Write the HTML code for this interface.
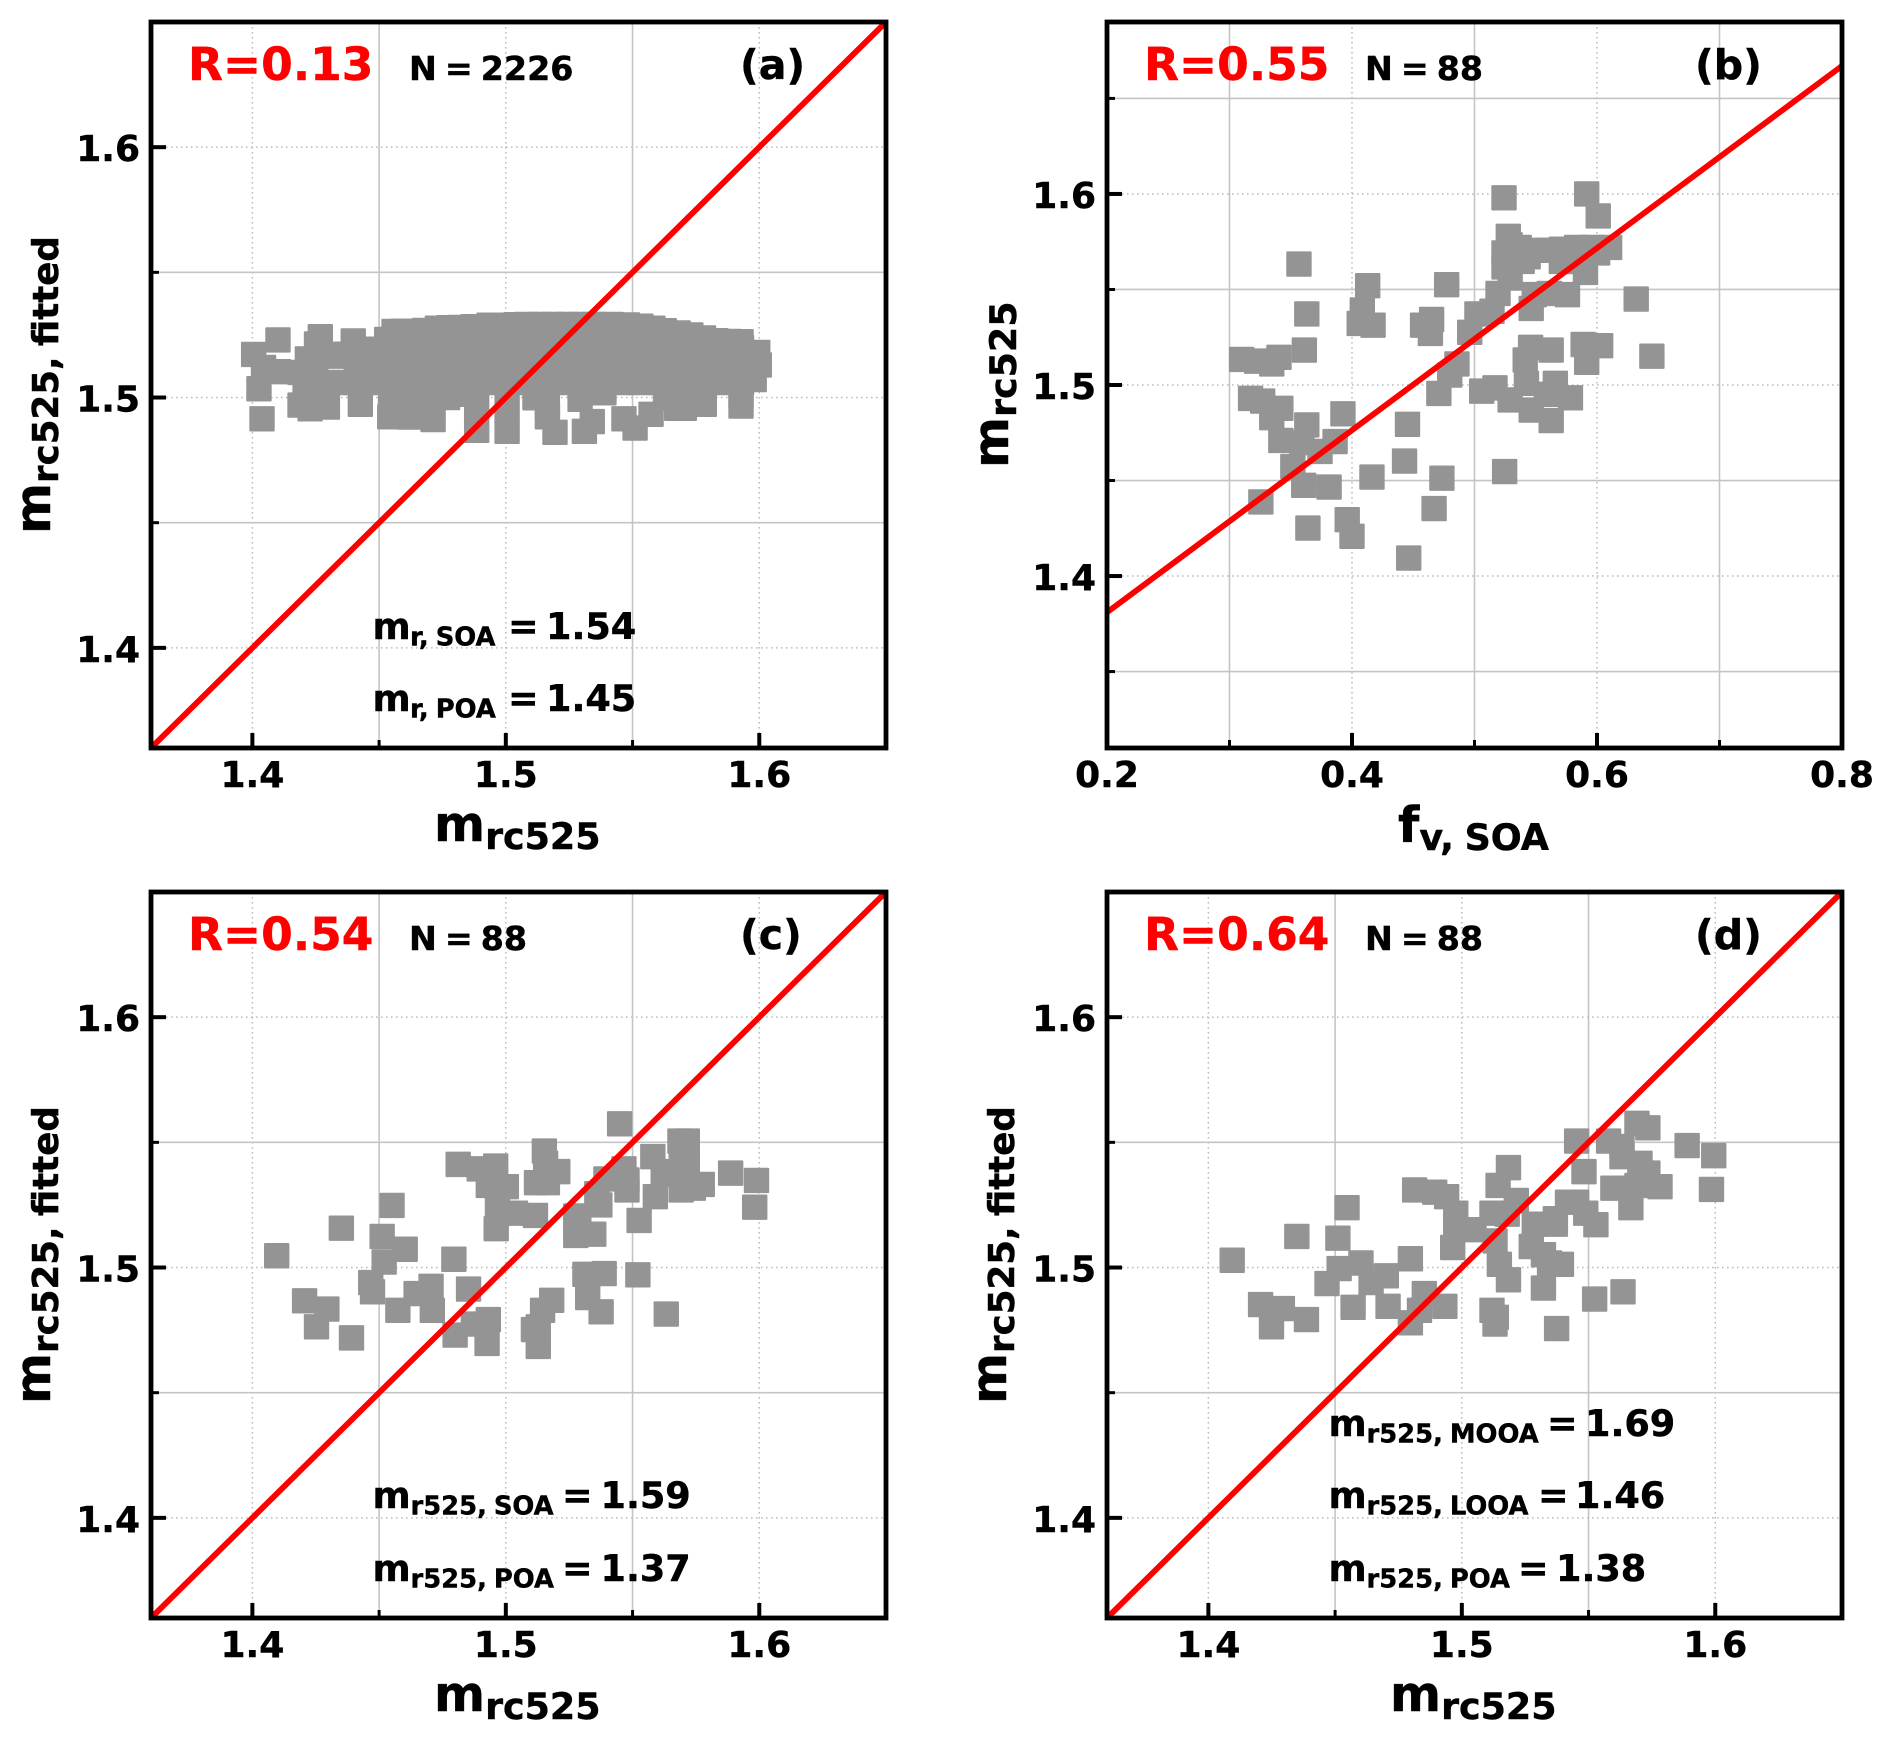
<!DOCTYPE html>
<html lang="en">
<head>
<meta charset="utf-8">
<title>Refractive index scatter panels</title>
<style>
  html, body { margin: 0; padding: 0; background: #fff; }
  svg { display: block; }
  text { font-family: "DejaVu Sans", "Liberation Sans", sans-serif; font-weight: 700; fill: #000; stroke: #000; stroke-width: 0.45px; }
  .tick { font-size: 36px; }
  .r { font-size: 45.5px; fill: #ff0000; stroke: #ff0000; }
  .n { font-size: 33.3px; word-spacing: -3.6px; }
  .p { font-size: 41px; }
  .ax { font-size: 49px; }
  .ax tspan { font-size: 36.4px; word-spacing: -2px; }
  .ax tspan.fit { font-size: 35.6px; }
  .an { font-size: 36.6px; }
  .an .s { font-size: 25.8px; word-spacing: -2px; }
</style>
</head>
<body>
<svg id="chart" xmlns="http://www.w3.org/2000/svg" width="1892" height="1738" viewBox="0 0 1892 1738">
  <rect width="1892" height="1738" fill="#ffffff"/>
  <defs>
    <clipPath id="clip-a"><rect x="151" y="22" width="735" height="726"/></clipPath>
    <clipPath id="clip-b"><rect x="1107" y="22" width="735" height="726"/></clipPath>
    <clipPath id="clip-c"><rect x="151" y="892" width="735" height="726"/></clipPath>
    <clipPath id="clip-d"><rect x="1107" y="892" width="735" height="726"/></clipPath>
  </defs>
  <g id="panel-a"></g>
  <g id="panel-b"></g>
  <g id="panel-c"></g>
  <g id="panel-d"></g>

  <!-- Panel a text -->
  <text class="r" x="188" y="80">R=0.13</text>
  <text class="n" x="409" y="80">N = 2226</text>
  <text class="p" x="740" y="79">(a)</text>
  <text class="an" y="639"><tspan x="372.5">m</tspan><tspan class="s" x="410" dy="6.5">r, SOA</tspan><tspan x="508" dy="-6.5">=</tspan><tspan x="546">1.54</tspan></text>
  <text class="an" y="711"><tspan x="372.5">m</tspan><tspan class="s" x="410" dy="6.5">r, POA</tspan><tspan x="508" dy="-6.5">=</tspan><tspan x="546">1.45</tspan></text>
  <text class="ax" x="434" y="841">m<tspan dy="8">rc525</tspan></text>
  <text class="ax" transform="translate(50 534) rotate(-90)">m<tspan class="fit" dy="8">rc525, fitted</tspan></text>

  <!-- Panel b text -->
  <text class="r" x="1144" y="80">R=0.55</text>
  <text class="n" x="1365" y="80">N = 88</text>
  <text class="p" x="1695" y="79">(b)</text>
  <text class="ax" x="1398" y="842">f<tspan dy="8">v, SOA</tspan></text>
  <text class="ax" transform="translate(1008 468) rotate(-90)">m<tspan dy="8">rc525</tspan></text>

  <!-- Panel c text -->
  <text class="r" x="188" y="950">R=0.54</text>
  <text class="n" x="409" y="950">N = 88</text>
  <text class="p" x="740" y="949">(c)</text>
  <text class="an" y="1508"><tspan x="372.5">m</tspan><tspan class="s" x="410.5" dy="6.5">r525, SOA</tspan><tspan x="562" dy="-6.5">=</tspan><tspan x="600.5">1.59</tspan></text>
  <text class="an" y="1581"><tspan x="372.5">m</tspan><tspan class="s" x="410.5" dy="6.5">r525, POA</tspan><tspan x="562" dy="-6.5">=</tspan><tspan x="600.5">1.37</tspan></text>
  <text class="ax" x="434" y="1711">m<tspan dy="8">rc525</tspan></text>
  <text class="ax" transform="translate(50 1404) rotate(-90)">m<tspan class="fit" dy="8">rc525, fitted</tspan></text>

  <!-- Panel d text -->
  <text class="r" x="1144" y="950">R=0.64</text>
  <text class="n" x="1365" y="950">N = 88</text>
  <text class="p" x="1695" y="949">(d)</text>
  <text class="an" y="1436"><tspan x="1328.5">m</tspan><tspan class="s" x="1366.5" dy="6.5">r525, MOOA</tspan><tspan x="1547" dy="-6.5">=</tspan><tspan x="1585">1.69</tspan></text>
  <text class="an" y="1508"><tspan x="1328.5">m</tspan><tspan class="s" x="1366.5" dy="6.5">r525, LOOA</tspan><tspan x="1538" dy="-6.5">=</tspan><tspan x="1575">1.46</tspan></text>
  <text class="an" y="1581"><tspan x="1328.5">m</tspan><tspan class="s" x="1366.5" dy="6.5">r525, POA</tspan><tspan x="1518" dy="-6.5">=</tspan><tspan x="1556">1.38</tspan></text>
  <text class="ax" x="1390" y="1711">m<tspan dy="8">rc525</tspan></text>
  <text class="ax" transform="translate(1006 1404) rotate(-90)">m<tspan class="fit" dy="8">rc525, fitted</tspan></text>
</svg>

<script>
// ---- tick values ----
const majorTicks = [1.4, 1.5, 1.6];
const minorTicks = [1.45, 1.55];
const bXMajorTicks = [0.2, 0.4, 0.6, 0.8];
const bXMinorTicks = [0.3, 0.5, 0.7];
const bYMajorTicks = [1.4, 1.5, 1.6];
const bYMinorTicks = [1.35, 1.45, 1.55, 1.65];

// ---- fit / 1:1 lines ----
const lineAX = [1.36, 1.65];
const lineAY = [1.36, 1.65];
const lineBX = [0.2, 0.8];
const lineBY = [1.381, 1.667];
const lineCX = [1.36, 1.65];
const lineCY = [1.36, 1.65];
const lineDX = [1.36, 1.65];
const lineDY = [1.36, 1.65];

// ---- panel a: measured vs fitted ----
const aX = [
  1.4005,1.4101,1.4026,1.4038,1.4044,1.4103,1.4188,1.4208,1.4217,1.4268,
  1.4253,1.4398,1.4368,1.4435,1.4530,1.4559,1.4596,1.4635,1.4680,1.4730,
  1.4775,1.4819,1.4870,1.4934,1.4990,1.5040,1.5082,1.5135,1.5188,1.5240,
  1.5293,1.5350,1.5415,1.5480,1.5533,1.5580,1.5625,1.5680,1.5730,1.5780,
  1.5829,1.5880,1.5928,1.5994,1.6000,1.5980,1.4188,1.4228,1.4296,1.4426,
  1.4542,1.4618,1.4713,1.4793,1.4885,1.5005,1.5164,1.5194,1.5310,1.5341,
  1.5466,1.5510,1.5573,1.5674,1.5704,1.5783,1.5928,1.4545,1.4620,1.4700,
  1.4770,1.4885,1.5005,1.5115,1.5164,1.5293,1.5387,1.5630,1.5690,1.5760,
  1.5928,1.425,1.425,1.433,1.433,1.441,1.441,1.441,1.449,1.449,
  1.449,1.457,1.457,1.457,1.465,1.465,1.465,1.473,1.473,1.473,
  1.481,1.481,1.481,1.489,1.489,1.489,1.497,1.497,1.497,
  1.505,1.505,1.505,1.513,1.513,1.513,1.521,1.521,1.521,
  1.529,1.529,1.529,1.537,1.537,1.537,1.545,1.545,1.545,
  1.553,1.553,1.553,1.561,1.561,1.561,1.569,1.569,1.569,
  1.577,1.577,1.577,1.585,1.585,1.585,1.593,1.593,1.593
];
const aY = [
  1.5172,1.5230,1.5035,1.4915,1.5120,1.5103,1.5100,1.5043,1.5154,1.5243,
  1.5214,1.5226,1.5173,1.5193,1.5232,1.5264,1.5265,1.5265,1.5268,1.5277,
  1.5279,1.5280,1.5283,1.5289,1.5289,1.5291,1.5292,1.5292,1.5292,1.5292,
  1.5292,1.5292,1.5292,1.5290,1.5285,1.5277,1.5267,1.5258,1.5250,1.5238,
  1.5227,1.5224,1.5223,1.5180,1.5130,1.5072,1.4970,1.4955,1.4962,1.4973,
  1.4923,1.4922,1.4912,1.5013,1.4869,1.4865,1.4923,1.4861,1.4865,1.4904,
  1.4915,1.4878,1.4933,1.4957,1.4957,1.4973,1.4966,1.5000,1.5000,1.5000,
  1.5000,1.4960,1.4960,1.4999,1.4965,1.4993,1.5019,1.4998,1.4998,1.4998,
  1.5010,1.506,1.513,1.506,1.5165,1.506,1.513,1.519,1.506,1.513,
  1.519,1.506,1.513,1.520,1.506,1.513,1.520,1.506,1.513,1.520,
  1.506,1.513,1.520,1.506,1.513,1.520,1.506,1.513,1.520,
  1.506,1.513,1.520,1.506,1.513,1.520,1.506,1.513,1.520,
  1.506,1.513,1.520,1.506,1.513,1.520,1.506,1.513,1.520,
  1.506,1.513,1.520,1.506,1.513,1.520,1.506,1.513,1.520,
  1.506,1.513,1.520,1.506,1.513,1.520,1.506,1.513,1.520
];

// ---- panel b: f_v,SOA vs m_rc525 ----
const bX = [
  .5241,.5916,.6010,.5276,.5291,.5241,.5365,.5241,.5438,.5611,
  .5709,.5833,.5956,.6103,.6005,.5906,.5709,.3567,.4128,.4773,
  .6320,.4084,.3631,.4059,.4172,.4650,.4576,.4640,.5192,.5020,
  .5143,.4961,.5463,.5611,.5759,.5488,.3099,.3222,.3345,.3404,
  .3611,.5458,.5626,.5414,.5887,.6030,.5916,.6448,.4857,.4798,
  .4709,.5059,.5167,.5424,.5660,.5586,.5291,.5463,.5783,.5626,
  .3172,.3271,.3419,.3345,.3631,.3926,.4453,.3419,.3591,.3862,
  .3739,.3517,.4429,.3606,.3813,.4163,.4734,.5246,.3256,.4670,
  .3961,.4000,.3640,.4463,.5537,.5389,.5857,.5291
];
const bY = [
  1.598,1.600,1.5885,1.5778,1.5734,1.5691,1.572,1.5618,1.5671,1.5705,
  1.5711,1.572,1.572,1.572,1.5691,1.5589,1.5647,1.5633,1.552,1.5525,
  1.545,1.5392,1.5372,1.5322,1.5313,1.5343,1.5313,1.527,1.5479,1.5372,
  1.5386,1.5276,1.5401,1.5479,1.5473,1.5473,1.5134,1.5125,1.511,1.5145,
  1.5183,1.5197,1.5183,1.5131,1.5212,1.5206,1.5119,1.5151,1.511,1.5052,
  1.4956,1.4968,1.4985,1.5009,1.5009,1.4951,1.4922,1.4869,1.4933,1.4814,
  1.493,1.4916,1.4878,1.4829,1.4791,1.4849,1.4794,1.471,1.4698,1.4704,
  1.4652,1.4573,1.4602,1.4475,1.4466,1.4518,1.4512,1.4547,1.4388,1.4353,
  1.4295,1.4208,1.4251,1.4094,1.5705,1.5647,1.5647,1.556
];

// ---- panel c: measured vs fitted ----
const cX = [
  1.5449,1.5716,1.5687,1.5152,1.5157,1.5205,1.5121,1.5164,1.4812,1.4895,
  1.4960,1.4931,1.5002,1.5580,1.5395,1.5466,1.5478,1.5478,1.5621,1.5716,
  1.5692,1.5775,1.5692,1.5740,1.5887,1.5989,1.5982,1.4551,1.4351,1.4512,
  1.4603,1.4520,1.4096,1.4795,1.5038,1.5117,1.4962,1.4967,1.5371,1.5359,
  1.5276,1.5276,1.5347,1.5288,1.5590,1.5526,1.5312,1.5388,1.5521,1.5633,
  1.5323,1.5376,1.5181,1.5145,1.5128,1.5109,1.5128,1.4926,1.4931,1.4872,
  1.4800,1.4853,1.4705,1.4646,1.4710,1.4574,1.4467,1.4474,1.4206,1.4294,
  1.4253,1.4391,1.5692,1.5633
];
const cY = [
  1.5574,1.5505,1.5505,1.5465,1.5416,1.5383,1.5339,1.5339,1.5412,1.5394,
  1.5405,1.5328,1.5323,1.5443,1.5354,1.5394,1.5310,1.5350,1.5383,1.5416,
  1.5361,1.5332,1.5310,1.5317,1.5377,1.5348,1.5241,1.5248,1.5157,1.5124,
  1.5073,1.5022,1.5047,1.5033,1.5217,1.5208,1.5155,1.5239,1.5250,1.5295,
  1.5206,1.5128,1.5133,1.5173,1.5283,1.5188,1.4973,1.4976,1.4971,1.4814,
  1.4880,1.4823,1.4869,1.4829,1.4763,1.4752,1.4685,1.4697,1.4792,1.4774,
  1.4730,1.4914,1.4925,1.4896,1.4829,1.4829,1.4940,1.4903,1.4867,1.4834,
  1.4763,1.4719,1.5450,1.5372
];

// ---- panel d: measured vs fitted ----
const dX = [
  1.5691,1.5734,1.5453,1.5579,1.5889,1.5994,1.5632,1.5703,1.5482,1.5734,
  1.5596,1.5691,1.5782,1.5985,1.5667,1.5184,1.5143,1.4814,1.4893,1.4940,
  1.5215,1.4547,1.4349,1.4511,1.4094,1.4797,1.5119,1.5179,1.4976,1.4976,
  1.5048,1.4964,1.5131,1.5417,1.5369,1.5286,1.5274,1.5322,1.5393,1.5346,
  1.5489,1.5529,1.5148,1.5184,1.5322,1.5524,1.5636,1.5374,1.5119,1.5136,
  1.5131,1.4933,1.4852,1.4833,1.4797,1.4709,1.4702,1.4642,1.4602,1.4516,
  1.4468,1.4571,1.4206,1.4292,1.4249,1.4387,1.5369,1.5453,1.5632,1.5703
];
const dY = [
  1.5576,1.5558,1.5505,1.5505,1.5487,1.5447,1.5443,1.5416,1.5383,1.5377,
  1.5317,1.5328,1.5323,1.5312,1.5239,1.5399,1.5328,1.5310,1.5301,1.5283,
  1.5268,1.5239,1.5124,1.5117,1.5029,1.5035,1.5217,1.5213,1.5217,1.5162,
  1.5151,1.5080,1.5106,1.5261,1.5173,1.5173,1.5084,1.5051,1.5013,1.5018,
  1.5217,1.5171,1.5013,1.4951,1.4918,1.4874,1.4903,1.4756,1.4829,1.4801,
  1.4774,1.4845,1.4896,1.4829,1.4779,1.4845,1.4967,1.4940,1.5018,1.4996,
  1.4936,1.4841,1.4852,1.4836,1.4763,1.4792,1.5195,1.5261,1.5483,1.5361
];

const NS = 'http://www.w3.org/2000/svg';
const MARKER = 25.4;

function shape(parent, tag, attrs) {
  const el = document.createElementNS(NS, tag);
  for (const k in attrs) el.setAttribute(k, attrs[k]);
  parent.appendChild(el);
  return el;
}

function drawPanel(id, box, xDomain, yDomain, xMajor, xMinor, yMajor, yMinor, xs, ys, lineX, lineY) {
  const g = document.getElementById('panel-' + id);
  const sx = v => box.left + (v - xDomain[0]) / (xDomain[1] - xDomain[0]) * (box.right - box.left);
  const sy = v => box.bottom - (v - yDomain[0]) / (yDomain[1] - yDomain[0]) * (box.bottom - box.top);

  // grid
  yMajor.forEach(v => {
    const el = shape(g, 'line', {x1: box.left, x2: box.right, y1: sy(v), y2: sy(v), stroke: '#bcbcbc', 'stroke-width': 1.5, 'stroke-dasharray': '1.6 3.4'});
    
    
  });
  xMajor.forEach(v => {
    const el = shape(g, 'line', {x1: sx(v), x2: sx(v), y1: box.top, y2: box.bottom, stroke: '#bcbcbc', 'stroke-width': 1.5, 'stroke-dasharray': '1.6 3.4'});
    
    
  });
  yMinor.forEach(v => {
    const el = shape(g, 'line', {x1: box.left, x2: box.right, y1: sy(v), y2: sy(v), stroke: '#c4c4c4', 'stroke-width': 1.6});
    
    
  });
  xMinor.forEach(v => {
    const el = shape(g, 'line', {x1: sx(v), x2: sx(v), y1: box.top, y2: box.bottom, stroke: '#c4c4c4', 'stroke-width': 1.6});
    
    
  });

  // points
  xs.forEach((v, i) => {
    const el = shape(g, 'rect', {x: sx(v) - MARKER / 2, y: sy(ys[i]) - MARKER / 2, width: MARKER, height: MARKER, rx: 1, fill: '#949494'});
    
    
  });

  // red line
  const red = shape(g, 'line', {x1: sx(lineX[0]), y1: sy(lineY[0]), x2: sx(lineX[1]), y2: sy(lineY[1]), stroke: '#ff0000', 'stroke-width': 5.8, 'clip-path': 'url(#clip-' + id + ')'});
  
  

  // ticks and labels
  xMajor.forEach(v => {
    const t = shape(g, 'line', {x1: sx(v), x2: sx(v), y1: box.bottom, y2: box.bottom - 15, stroke: '#000', 'stroke-width': 4});
    
    
    const lab = shape(g, 'text', {x: sx(v), y: box.bottom + 39, 'text-anchor': 'middle', class: 'tick'});
    
    
    lab.textContent = v.toFixed(1);
  });
  xMinor.forEach(v => {
    const t = shape(g, 'line', {x1: sx(v), x2: sx(v), y1: box.bottom, y2: box.bottom - 8, stroke: '#000', 'stroke-width': 3});
    
    
  });
  yMajor.forEach(v => {
    const t = shape(g, 'line', {x1: box.left, x2: box.left + 15, y1: sy(v), y2: sy(v), stroke: '#000', 'stroke-width': 4});
    
    
    const lab = shape(g, 'text', {x: box.left - 11, y: sy(v) + 14, 'text-anchor': 'end', class: 'tick'});
    
    
    lab.textContent = v.toFixed(1);
  });
  yMinor.forEach(v => {
    const t = shape(g, 'line', {x1: box.left, x2: box.left + 8, y1: sy(v), y2: sy(v), stroke: '#000', 'stroke-width': 3});
    
    
  });

  // frame
  const frame = shape(g, 'rect', {x: box.left, y: box.top, width: box.right - box.left, height: box.bottom - box.top, fill: 'none', stroke: '#000', 'stroke-width': 4.8});
  
  
}

drawPanel('a', {left: 151, right: 886, top: 22, bottom: 748}, [1.36, 1.65], [1.36, 1.65], majorTicks, minorTicks, majorTicks, minorTicks, aX, aY, lineAX, lineAY);
drawPanel('b', {left: 1107, right: 1842, top: 22, bottom: 748}, [0.2, 0.8], [1.31, 1.69], bXMajorTicks, bXMinorTicks, bYMajorTicks, bYMinorTicks, bX, bY, lineBX, lineBY);
drawPanel('c', {left: 151, right: 886, top: 892, bottom: 1618}, [1.36, 1.65], [1.36, 1.65], majorTicks, minorTicks, majorTicks, minorTicks, cX, cY, lineCX, lineCY);
drawPanel('d', {left: 1107, right: 1842, top: 892, bottom: 1618}, [1.36, 1.65], [1.36, 1.65], majorTicks, minorTicks, majorTicks, minorTicks, dX, dY, lineDX, lineDY);
</script>
</body>
</html>
